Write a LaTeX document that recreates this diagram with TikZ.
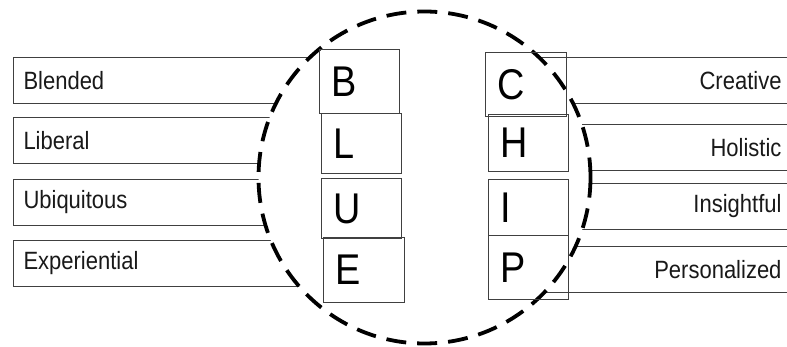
\documentclass[tikz,border=0pt]{standalone}
\usepackage{fontspec}
\setmainfont{Liberation Sans}
\newfontfamily\wordfont[FakeStretch=0.88]{Liberation Sans}
\begin{document}
\begin{tikzpicture}[x=1pt,y=-1pt,
  boxline/.style={draw=black!75, line width=1pt},
  wordbox/.style={boxline, rectangle, minimum height=46pt, inner xsep=10pt, inner ysep=0pt, font=\wordfont\fontsize{25}{28}\selectfont, text=black!90},
  leftword/.style={wordbox, anchor=north west, text width=317pt, align=left},
  rightword/.style={wordbox, anchor=north east, text width=252pt, align=right},
  letterbox/.style={boxline, rectangle, anchor=north west, inner xsep=12pt, inner ysep=0pt, font=\wordfont\fontsize{43}{46}\selectfont, align=left},
  ring/.style={circle, draw=black, fill=white, line width=3.8pt, dash pattern=on 20pt off 11pt, minimum size=332pt, inner sep=0pt}
]
\useasboundingbox (0,0) rectangle (787,347);
% word boxes
\node[leftword] (blended) at (13,57) {Blended};
\node[leftword] (liberal) at (13,117) {Liberal};
\node[leftword] (ubiquitous) at (13,179) {Ubiquitous};
\node[leftword] (experiential) at (13,240) {Experiential};
\node[rightword] (creative) at (792,57) {Creative};
\node[rightword] (holistic) at (792,124) {Holistic};
\node[rightword] (insightful) at (792,183) {Insightful};
\node[rightword] (personalized) at (792,246) {Personalized};
% dashed ring
\node[ring] (ring) at (424.5,177.5) {};
% letter boxes
\node[letterbox, text width=56pt, minimum height=64pt] (B) at (319,49) {B};
\node[letterbox, text width=56pt, minimum height=60pt] (L) at (321,113) {L};
\node[letterbox, text width=56pt, minimum height=60pt] (U) at (321,178) {U};
\node[letterbox, text width=57pt, minimum height=65pt] (E) at (323,237) {E};
\node[letterbox, text width=57pt, minimum height=64pt] (C) at (485,52) {C};
\node[letterbox, text width=56pt, minimum height=57pt] (H) at (488,114) {H};
\node[letterbox, text width=56pt, minimum height=56pt] (I) at (488,179) {I};
\node[letterbox, text width=56pt, minimum height=64pt] (P) at (488,235) {P};
\end{tikzpicture}
\end{document}
